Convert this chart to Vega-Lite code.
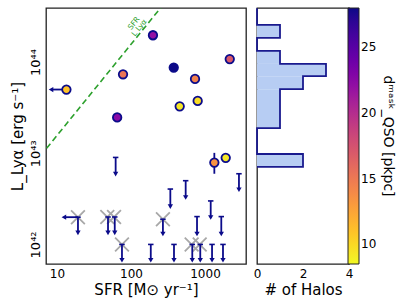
{
  "$schema": "https://vega.github.io/schema/vega-lite/v6.json",
  "padding": {"left": 9, "top": 3, "right": 16, "bottom": 0},
  "config": {
    "font": "DejaVu Sans",
    "view": {"stroke": "#222", "strokeWidth": 1.3},
    "axis": {"labelFont": "DejaVu Sans", "titleFont": "DejaVu Sans", "labelFontSize": 12, "titleFontSize": 15, "titleFontWeight": "normal", "labelColor": "#000", "titleColor": "#000", "domain": false, "grid": false, "tickColor": "#222", "tickSize": 0, "tickWidth": 1, "labelPadding": 4, "labelFlush": false, "labelOverlap": false, "minExtent": 0},
    "legend": {"gradientLength": 256, "gradientThickness": 11, "gradientStrokeColor": "#222", "gradientStrokeWidth": 1, "labelFontSize": 12, "labelColor": "#000", "titleColor": "#000", "titleFontSize": 14, "titleFontWeight": "normal", "labelOffset": 4, "padding": 0, "titleOrient": "right", "titlePadding": 5, "titleAnchor": "middle", "titleLimit": 300}
  },
  "datasets": {
    "det": [
      {"sfr": 13.4, "L": 5.0e43, "d": 11},
      {"sfr": 78, "L": 7.35e43, "d": 15.3},
      {"sfr": 65, "L": 2.47e43, "d": 22.5},
      {"sfr": 198, "L": 1.97e44, "d": 22},
      {"sfr": 378, "L": 8.7e43, "d": 28},
      {"sfr": 2160, "L": 1.08e44, "d": 17},
      {"sfr": 733, "L": 6.53e43, "d": 14.4},
      {"sfr": 455, "L": 3.27e43, "d": 9.3},
      {"sfr": 796, "L": 3.75e43, "d": 9.8},
      {"sfr": 1337, "L": 7.9e42, "d": 13.5},
      {"sfr": 1905, "L": 8.9e42, "d": 9.3}
    ],
    "errs": [
      {"sfr": 65, "lo": 2.2e43, "hi": 2.47e43},
      {"sfr": 1337, "lo": 5.96e42, "hi": 1.01e43}
    ],
    "lims": [
      {"sfr": 62, "L": 9.0e42, "Lend": 5.9e42},
      {"sfr": 19.2, "L": 1.99e42, "Lend": 1.34e42},
      {"sfr": 48.9, "L": 2.0e42, "Lend": 1.34e42},
      {"sfr": 60.3, "L": 2.0e42, "Lend": 1.34e42},
      {"sfr": 75.5, "L": 1.0e42, "Lend": 6.7e41},
      {"sfr": 340, "L": 4.05e42, "Lend": 2.6e42},
      {"sfr": 548, "L": 5.0e42, "Lend": 3.27e42},
      {"sfr": 2876, "L": 5.96e42, "Lend": 3.98e42},
      {"sfr": 1194, "L": 3.0e42, "Lend": 1.97e42},
      {"sfr": 270, "L": 1.89e42, "Lend": 1.3e42},
      {"sfr": 780, "L": 2.02e42, "Lend": 1.3e42},
      {"sfr": 1660, "L": 2.02e42, "Lend": 1.3e42},
      {"sfr": 185, "L": 1.0e42, "Lend": 6.7e41},
      {"sfr": 381, "L": 1.0e42, "Lend": 6.7e41},
      {"sfr": 673, "L": 1.0e42, "Lend": 6.7e41},
      {"sfr": 863, "L": 1.0e42, "Lend": 6.7e41},
      {"sfr": 1245, "L": 1.0e42, "Lend": 6.7e41},
      {"sfr": 1750, "L": 1.0e42, "Lend": 6.7e41}
    ],
    "crosses": [
      {"sfr": 19.2, "L": 1.99e42},
      {"sfr": 47.8, "L": 2.0e42},
      {"sfr": 59, "L": 2.0e42},
      {"sfr": 75.5, "L": 1.0e42},
      {"sfr": 270, "L": 1.89e42},
      {"sfr": 660, "L": 1.0e42},
      {"sfr": 848, "L": 1.0e42}
    ],
    "xlims": [
      {"sfr": 13.4, "sfrend": 8.3, "L": 5.0e43},
      {"sfr": 19.2, "sfrend": 12.4, "L": 1.99e42}
    ],
    "relation": [
      {"sfr": 6, "L": 9.4e42},
      {"sfr": 300, "L": 4.7e44}
    ],
    "note": [
      {"sfr": 110, "L": 2.65e44, "label": ["   SFR", "L Lyα"]}
    ],
    "hist": [
      {"lo": 6.2e41, "hi": 7.08e42, "count": 0},
      {"lo": 7.08e42, "hi": 9.82e42, "count": 2},
      {"lo": 9.82e42, "hi": 1.89e43, "count": 0},
      {"lo": 1.89e43, "hi": 5.04e43, "count": 1},
      {"lo": 5.04e43, "hi": 7.01e43, "count": 2},
      {"lo": 7.01e43, "hi": 9.55e43, "count": 3},
      {"lo": 9.55e43, "hi": 1.33e44, "count": 1},
      {"lo": 1.33e44, "hi": 1.845e44, "count": 0},
      {"lo": 1.845e44, "hi": 2.56e44, "count": 1},
      {"lo": 2.56e44, "hi": 3.9e44, "count": 0}
    ]
  },
  "spacing": 4,
  "hconcat": [
    {
      "width": 200,
      "height": 256,
      "resolve": {"axis": {"x": "independent", "y": "independent"}},
      "layer": [
        {
          "data": {"name": "relation"},
          "mark": {"type": "line", "color": "#2ca02c", "strokeDash": [6, 3.5], "strokeWidth": 1.6, "clip": true},
          "encoding": {
            "x": {"field": "sfr", "type": "quantitative", "scale": {"type": "log", "domain": [7.1, 3581], "nice": false},
                  "axis": {"orient": "top", "labels": false, "title": null, "values": [8,9,10,20,30,40,50,60,70,80,90,100,200,300,400,500,600,700,800,900,1000,2000,3000],
                           "encode": {"ticks": {"update": {"y2": {"signal": "indexof([10,100,1000], datum.value) >= 0 ? 6 : 3"}}}}}},
            "y": {"field": "L", "type": "quantitative", "scale": {"type": "log", "domain": [6.1e41, 3.92e44], "nice": false},
                  "axis": {"orient": "right", "labels": false, "title": null, "values": [7e41,8e41,9e41,1e42,2e42,3e42,4e42,5e42,6e42,7e42,8e42,9e42,1e43,2e43,3e43,4e43,5e43,6e43,7e43,8e43,9e43,1e44,2e44,3e44],
                           "encode": {"ticks": {"update": {"x2": {"signal": "indexof([1e42,1e43,1e44], datum.value) >= 0 ? -6 : -3"}}}}}}
          }
        },
        {
          "data": {"name": "note"},
          "mark": {"type": "text", "angle": 309, "color": "#2ca02c", "fontSize": 7.5, "lineHeight": 7, "align": "center", "baseline": "middle"},
          "encoding": {
            "x": {"field": "sfr", "type": "quantitative", "scale": {"type": "log", "domain": [7.1, 3581], "nice": false}, "axis": null},
            "y": {"field": "L", "type": "quantitative", "scale": {"type": "log", "domain": [6.1e41, 3.92e44], "nice": false}, "axis": null},
            "text": {"field": "label"}
          }
        },
        {
          "data": {"name": "crosses"},
          "mark": {"type": "point", "shape": "M-1,-1L1,1M-1,1L1,-1", "filled": false, "color": "#a8a8a8", "strokeWidth": 1.8, "size": 190, "opacity": 1},
          "encoding": {
            "x": {"field": "sfr", "type": "quantitative", "scale": {"type": "log", "domain": [7.1, 3581], "nice": false}, "axis": null},
            "y": {"field": "L", "type": "quantitative", "scale": {"type": "log", "domain": [6.1e41, 3.92e44], "nice": false}, "axis": null}
          }
        },
        {
          "data": {"name": "lims"},
          "mark": {"type": "rule", "color": "#0b0b8a", "strokeWidth": 1.8},
          "encoding": {
            "x": {"field": "sfr", "type": "quantitative", "scale": {"type": "log", "domain": [7.1, 3581], "nice": false}, "axis": null},
            "y": {"field": "L", "type": "quantitative", "scale": {"type": "log", "domain": [6.1e41, 3.92e44], "nice": false}, "axis": null},
            "y2": {"field": "Lend"}
          }
        },
        {
          "data": {"name": "lims"},
          "mark": {"type": "point", "shape": "triangle-down", "filled": true, "color": "#0b0b8a", "size": 28, "opacity": 1},
          "encoding": {
            "x": {"field": "sfr", "type": "quantitative", "scale": {"type": "log", "domain": [7.1, 3581], "nice": false}, "axis": null},
            "y": {"field": "Lend", "type": "quantitative", "scale": {"type": "log", "domain": [6.1e41, 3.92e44], "nice": false}, "axis": null}
          }
        },
        {
          "data": {"name": "lims"},
          "mark": {"type": "point", "shape": "stroke", "filled": false, "color": "#0b0b8a", "strokeWidth": 1.6, "size": 30, "opacity": 1},
          "encoding": {
            "x": {"field": "sfr", "type": "quantitative", "scale": {"type": "log", "domain": [7.1, 3581], "nice": false}, "axis": null},
            "y": {"field": "L", "type": "quantitative", "scale": {"type": "log", "domain": [6.1e41, 3.92e44], "nice": false}, "axis": null}
          }
        },
        {
          "data": {"name": "xlims"},
          "mark": {"type": "rule", "color": "#0b0b8a", "strokeWidth": 1.8},
          "encoding": {
            "x": {"field": "sfr", "type": "quantitative", "scale": {"type": "log", "domain": [7.1, 3581], "nice": false}, "axis": null},
            "x2": {"field": "sfrend"},
            "y": {"field": "L", "type": "quantitative", "scale": {"type": "log", "domain": [6.1e41, 3.92e44], "nice": false}, "axis": null}
          }
        },
        {
          "data": {"name": "xlims"},
          "mark": {"type": "point", "shape": "triangle-left", "filled": true, "color": "#0b0b8a", "size": 28, "opacity": 1},
          "encoding": {
            "x": {"field": "sfrend", "type": "quantitative", "scale": {"type": "log", "domain": [7.1, 3581], "nice": false}, "axis": null},
            "y": {"field": "L", "type": "quantitative", "scale": {"type": "log", "domain": [6.1e41, 3.92e44], "nice": false}, "axis": null}
          }
        },
        {
          "data": {"name": "errs"},
          "mark": {"type": "rule", "color": "#0b0b8a", "strokeWidth": 1.8},
          "encoding": {
            "x": {"field": "sfr", "type": "quantitative", "scale": {"type": "log", "domain": [7.1, 3581], "nice": false}, "axis": null},
            "y": {"field": "lo", "type": "quantitative", "scale": {"type": "log", "domain": [6.1e41, 3.92e44], "nice": false}, "axis": null},
            "y2": {"field": "hi"}
          }
        },
        {
          "data": {"name": "det"},
          "mark": {"type": "point", "shape": "circle", "filled": true, "stroke": "#0b0b8a", "strokeWidth": 1.8, "size": 72, "opacity": 1},
          "encoding": {
            "x": {"field": "sfr", "type": "quantitative", "scale": {"type": "log", "domain": [7.1, 3581], "nice": false},
                  "axis": {"orient": "bottom", "title": "SFR [M⊙ yr⁻¹]", "titlePadding": 3, "values": [8,9,10,20,30,40,50,60,70,80,90,100,200,300,400,500,600,700,800,900,1000,2000,3000],
                           "labelExpr": "datum.value == 10 ? '10' : datum.value == 100 ? '100' : datum.value == 1000 ? '1000' : ''",
                           "encode": {"ticks": {"update": {"y2": {"signal": "indexof([10,100,1000], datum.value) >= 0 ? -6 : -3"}}}}}},
            "y": {"field": "L", "type": "quantitative", "scale": {"type": "log", "domain": [6.1e41, 3.92e44], "nice": false},
                  "axis": {"orient": "left", "title": "L_Lyα [erg s⁻¹]", "titlePadding": 4, "labelAngle": -90, "labelAlign": "center", "labelBaseline": "bottom", "labelFontSize": 13,
                           "values": [7e41,8e41,9e41,1e42,2e42,3e42,4e42,5e42,6e42,7e42,8e42,9e42,1e43,2e43,3e43,4e43,5e43,6e43,7e43,8e43,9e43,1e44,2e44,3e44],
                           "labelExpr": "datum.value == 1e42 ? '10⁴²' : datum.value == 1e43 ? '10⁴³' : datum.value == 1e44 ? '10⁴⁴' : ''",
                           "encode": {"ticks": {"update": {"x2": {"signal": "indexof([1e42,1e43,1e44], datum.value) >= 0 ? 6 : 3"}}}}}},
            "color": {"field": "d", "type": "quantitative", "scale": {"scheme": "plasma", "reverse": true, "domain": [8.5, 28]},
                      "legend": {"title": "dᵐᵃˢᵏ_QSO [pkpc]", "values": [10, 15, 20, 25], "direction": "vertical", "offset": -6, "padding": 0,
                                 "encode": {"labels": {"update": {"angle": {"value": 90}, "align": {"value": "center"}, "baseline": {"value": "bottom"}}},
                                            "title": {"update": {"angle": {"value": 90}, "align": {"value": "center"}, "baseline": {"value": "bottom"}}}}}}
          }
        }
      ]
    },
    {
      "width": 92,
      "height": 256,
      "resolve": {"axis": {"x": "independent", "y": "independent"}},
      "layer": [
        {
          "data": {"name": "hist"},
          "mark": {"type": "rect", "color": "#b7cdf3"},
          "encoding": {
            "x": {"field": "count", "type": "quantitative", "scale": {"domain": [0, 4], "nice": false},
                  "axis": {"orient": "bottom", "title": "# of Halos", "titlePadding": 3, "values": [0, 2, 4], "format": "d",
                           "encode": {"ticks": {"update": {"y2": {"value": -6}}}}}},
            "x2": {"datum": 0},
            "y": {"field": "lo", "type": "quantitative", "scale": {"type": "log", "domain": [6.1e41, 3.92e44], "nice": false},
                  "axis": {"orient": "left", "labels": false, "title": null,
                           "values": [7e41,8e41,9e41,1e42,2e42,3e42,4e42,5e42,6e42,7e42,8e42,9e42,1e43,2e43,3e43,4e43,5e43,6e43,7e43,8e43,9e43,1e44,2e44,3e44],
                           "encode": {"ticks": {"update": {"x2": {"signal": "indexof([1e42,1e43,1e44], datum.value) >= 0 ? 6 : 3"}}}}}},
            "y2": {"field": "hi"}
          }
        },
        {
          "data": {"name": "hist"},
          "mark": {"type": "line", "color": "#1a1a8e", "strokeWidth": 1.8, "interpolate": "step-after"},
          "encoding": {
            "x": {"field": "count", "type": "quantitative", "scale": {"domain": [0, 4], "nice": false},
                  "axis": {"orient": "top", "labels": false, "title": null, "values": [0, 2, 4],
                           "encode": {"ticks": {"update": {"y2": {"value": 6}}}}}},
            "y": {"field": "hi", "type": "quantitative", "scale": {"type": "log", "domain": [6.1e41, 3.92e44], "nice": false},
                  "axis": {"orient": "right", "labels": false, "title": null,
                           "values": [7e41,8e41,9e41,1e42,2e42,3e42,4e42,5e42,6e42,7e42,8e42,9e42,1e43,2e43,3e43,4e43,5e43,6e43,7e43,8e43,9e43,1e44,2e44,3e44],
                           "encode": {"ticks": {"update": {"x2": {"signal": "indexof([1e42,1e43,1e44], datum.value) >= 0 ? -6 : -3"}}}}}},
            "order": {"field": "hi", "type": "quantitative"}
          }
        }
      ]
    }
  ]
}
